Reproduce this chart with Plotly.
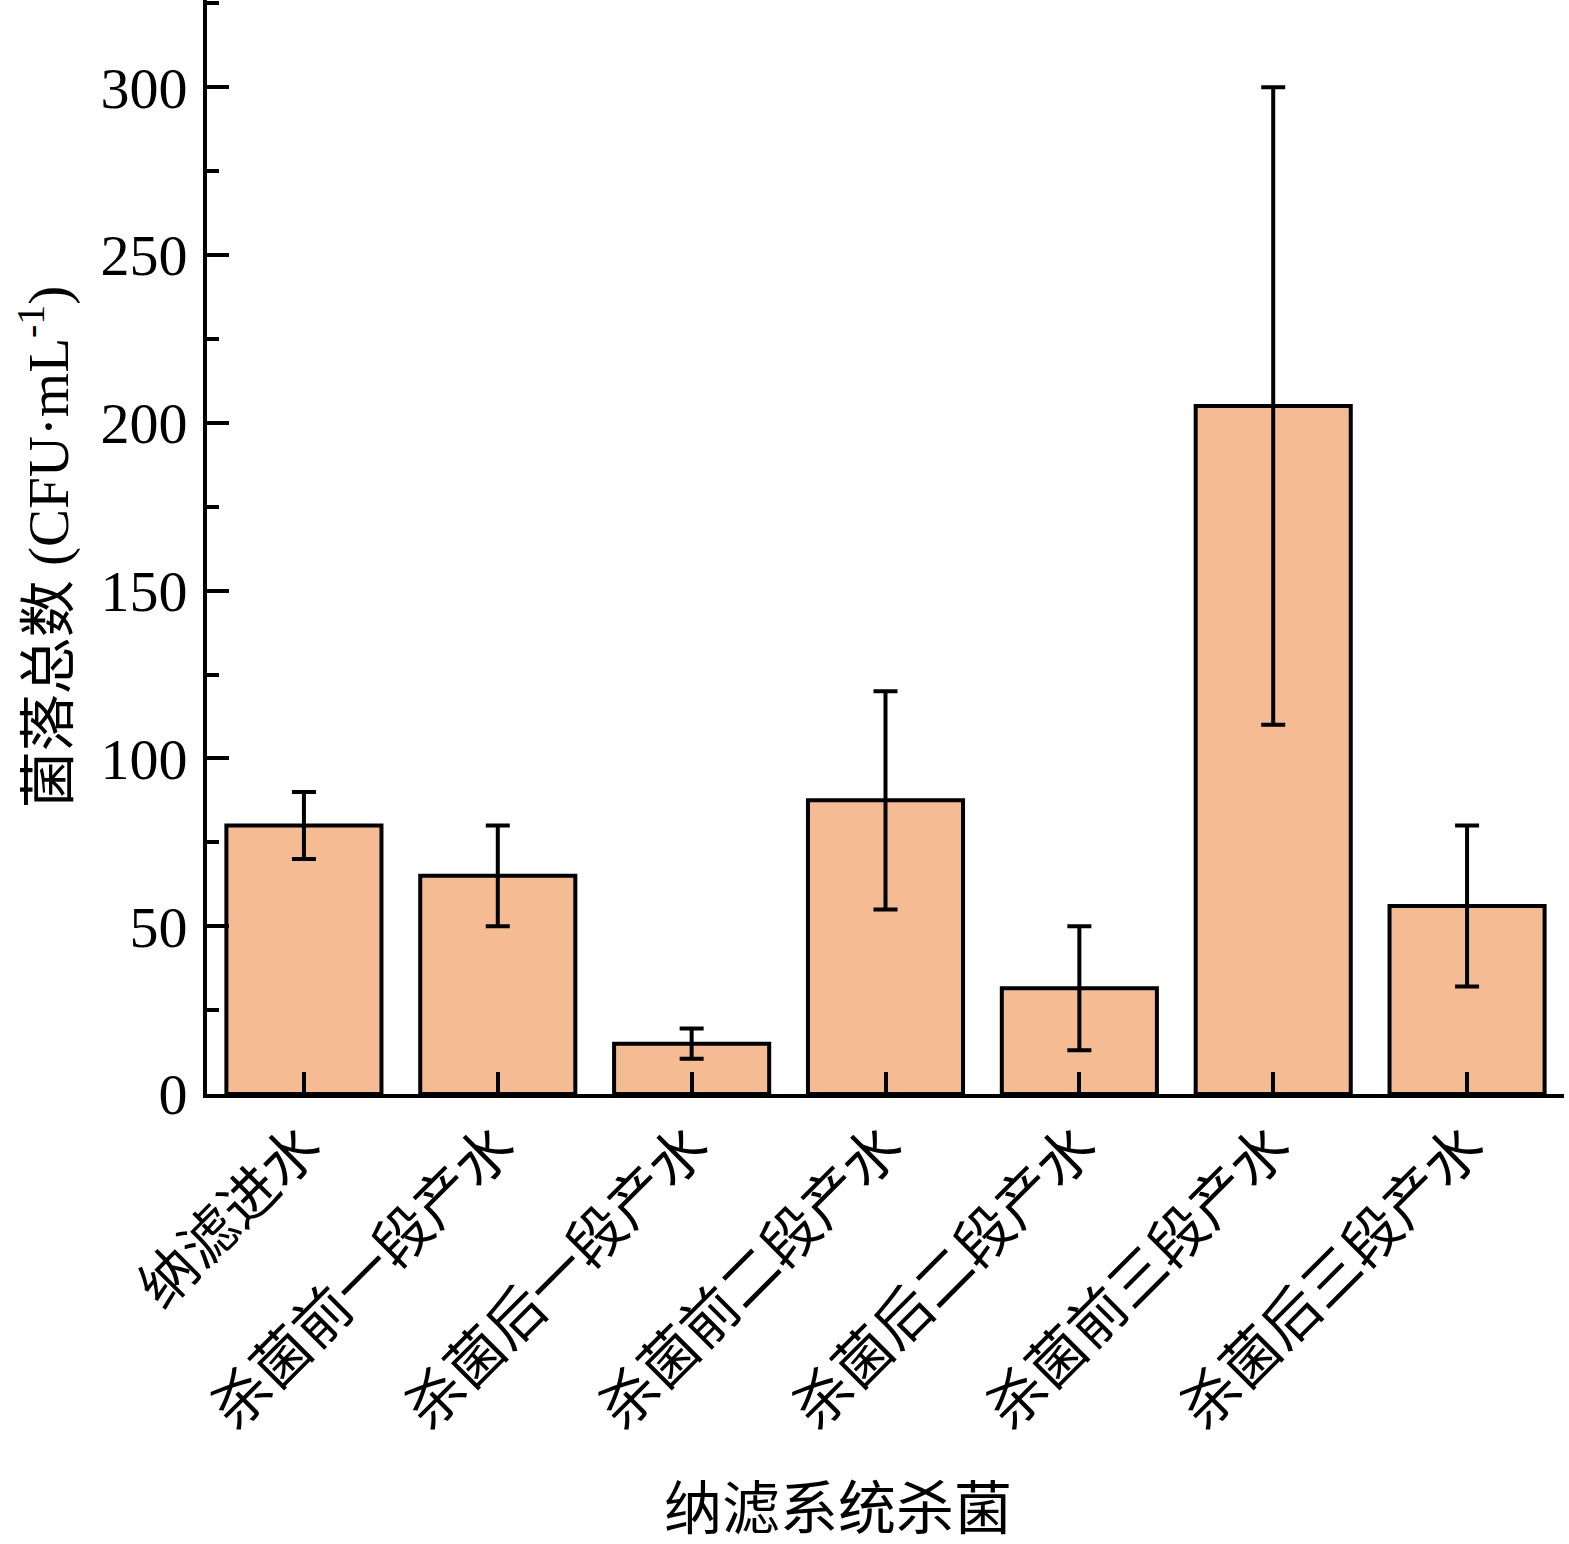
import plotly.graph_objects as go

categories = ["纳滤进水", "杀菌前一段产水", "杀菌后一段产水", "杀菌前二段产水",
              "杀菌后二段产水", "杀菌前三段产水", "杀菌后三段产水"]
values = [80, 65, 15, 87.5, 31.5, 205, 56]
errors = [10, 15, 4.5, 32.5, 18.5, 95, 24]
y_ticks = [0, 50, 100, 150, 200, 250, 300]

FONT = "Liberation Serif, Times New Roman, Noto Sans CJK SC"
x_pos = list(range(len(categories)))

fig = go.Figure()
fig.add_trace(go.Bar(
    x=x_pos, y=values, width=0.8,
    marker=dict(color="#F5BC93", line=dict(color="black", width=4)),
    error_y=dict(type="data", array=errors, visible=True,
                 color="black", thickness=4, width=12),
))

fig.update_layout(
    width=1569, height=1544,
    margin=dict(l=207, r=5, t=0, b=450),
    plot_bgcolor="white", paper_bgcolor="white",
    showlegend=False,
    font=dict(family=FONT, size=56, color="black"),
    xaxis=dict(
        range=[-0.5, 6.5],
        tickmode="array",
        tickvals=x_pos + [6.5],
        ticktext=categories + [""],
        tickangle=-45,
        ticks="inside", ticklen=22, tickwidth=4, tickcolor="black",
        showline=True, linewidth=4, linecolor="black",
        showgrid=False, zeroline=False,
        tickfont=dict(size=57, family=FONT),
        ticklabelstandoff=-8,
    ),
    yaxis=dict(
        range=[0, 326],
        tickmode="array", tickvals=y_ticks,
        ticks="inside", ticklen=22, tickwidth=4, tickcolor="black",
        minor=dict(dtick=25, ticks="inside", ticklen=12, tickwidth=4, tickcolor="black"),
        showline=True, linewidth=4, linecolor="black",
        showgrid=False, zeroline=False,
        tickfont=dict(size=58, family=FONT),
        ticklabelstandoff=4,
        title=dict(text="菌落总数 (CFU·mL<sup>-1</sup>)", font=dict(size=57, family=FONT), standoff=14),
    ),
    annotations=[dict(
        text="纳滤系统杀菌", xref="paper", yref="paper",
        x=(838 - 207) / (1564 - 207), y=-(1510 - 1094) / 1094,
        xanchor="center", yanchor="middle", showarrow=False,
        font=dict(size=58, family=FONT, color="black"),
    )],
)

fig.write_html("out.html")
